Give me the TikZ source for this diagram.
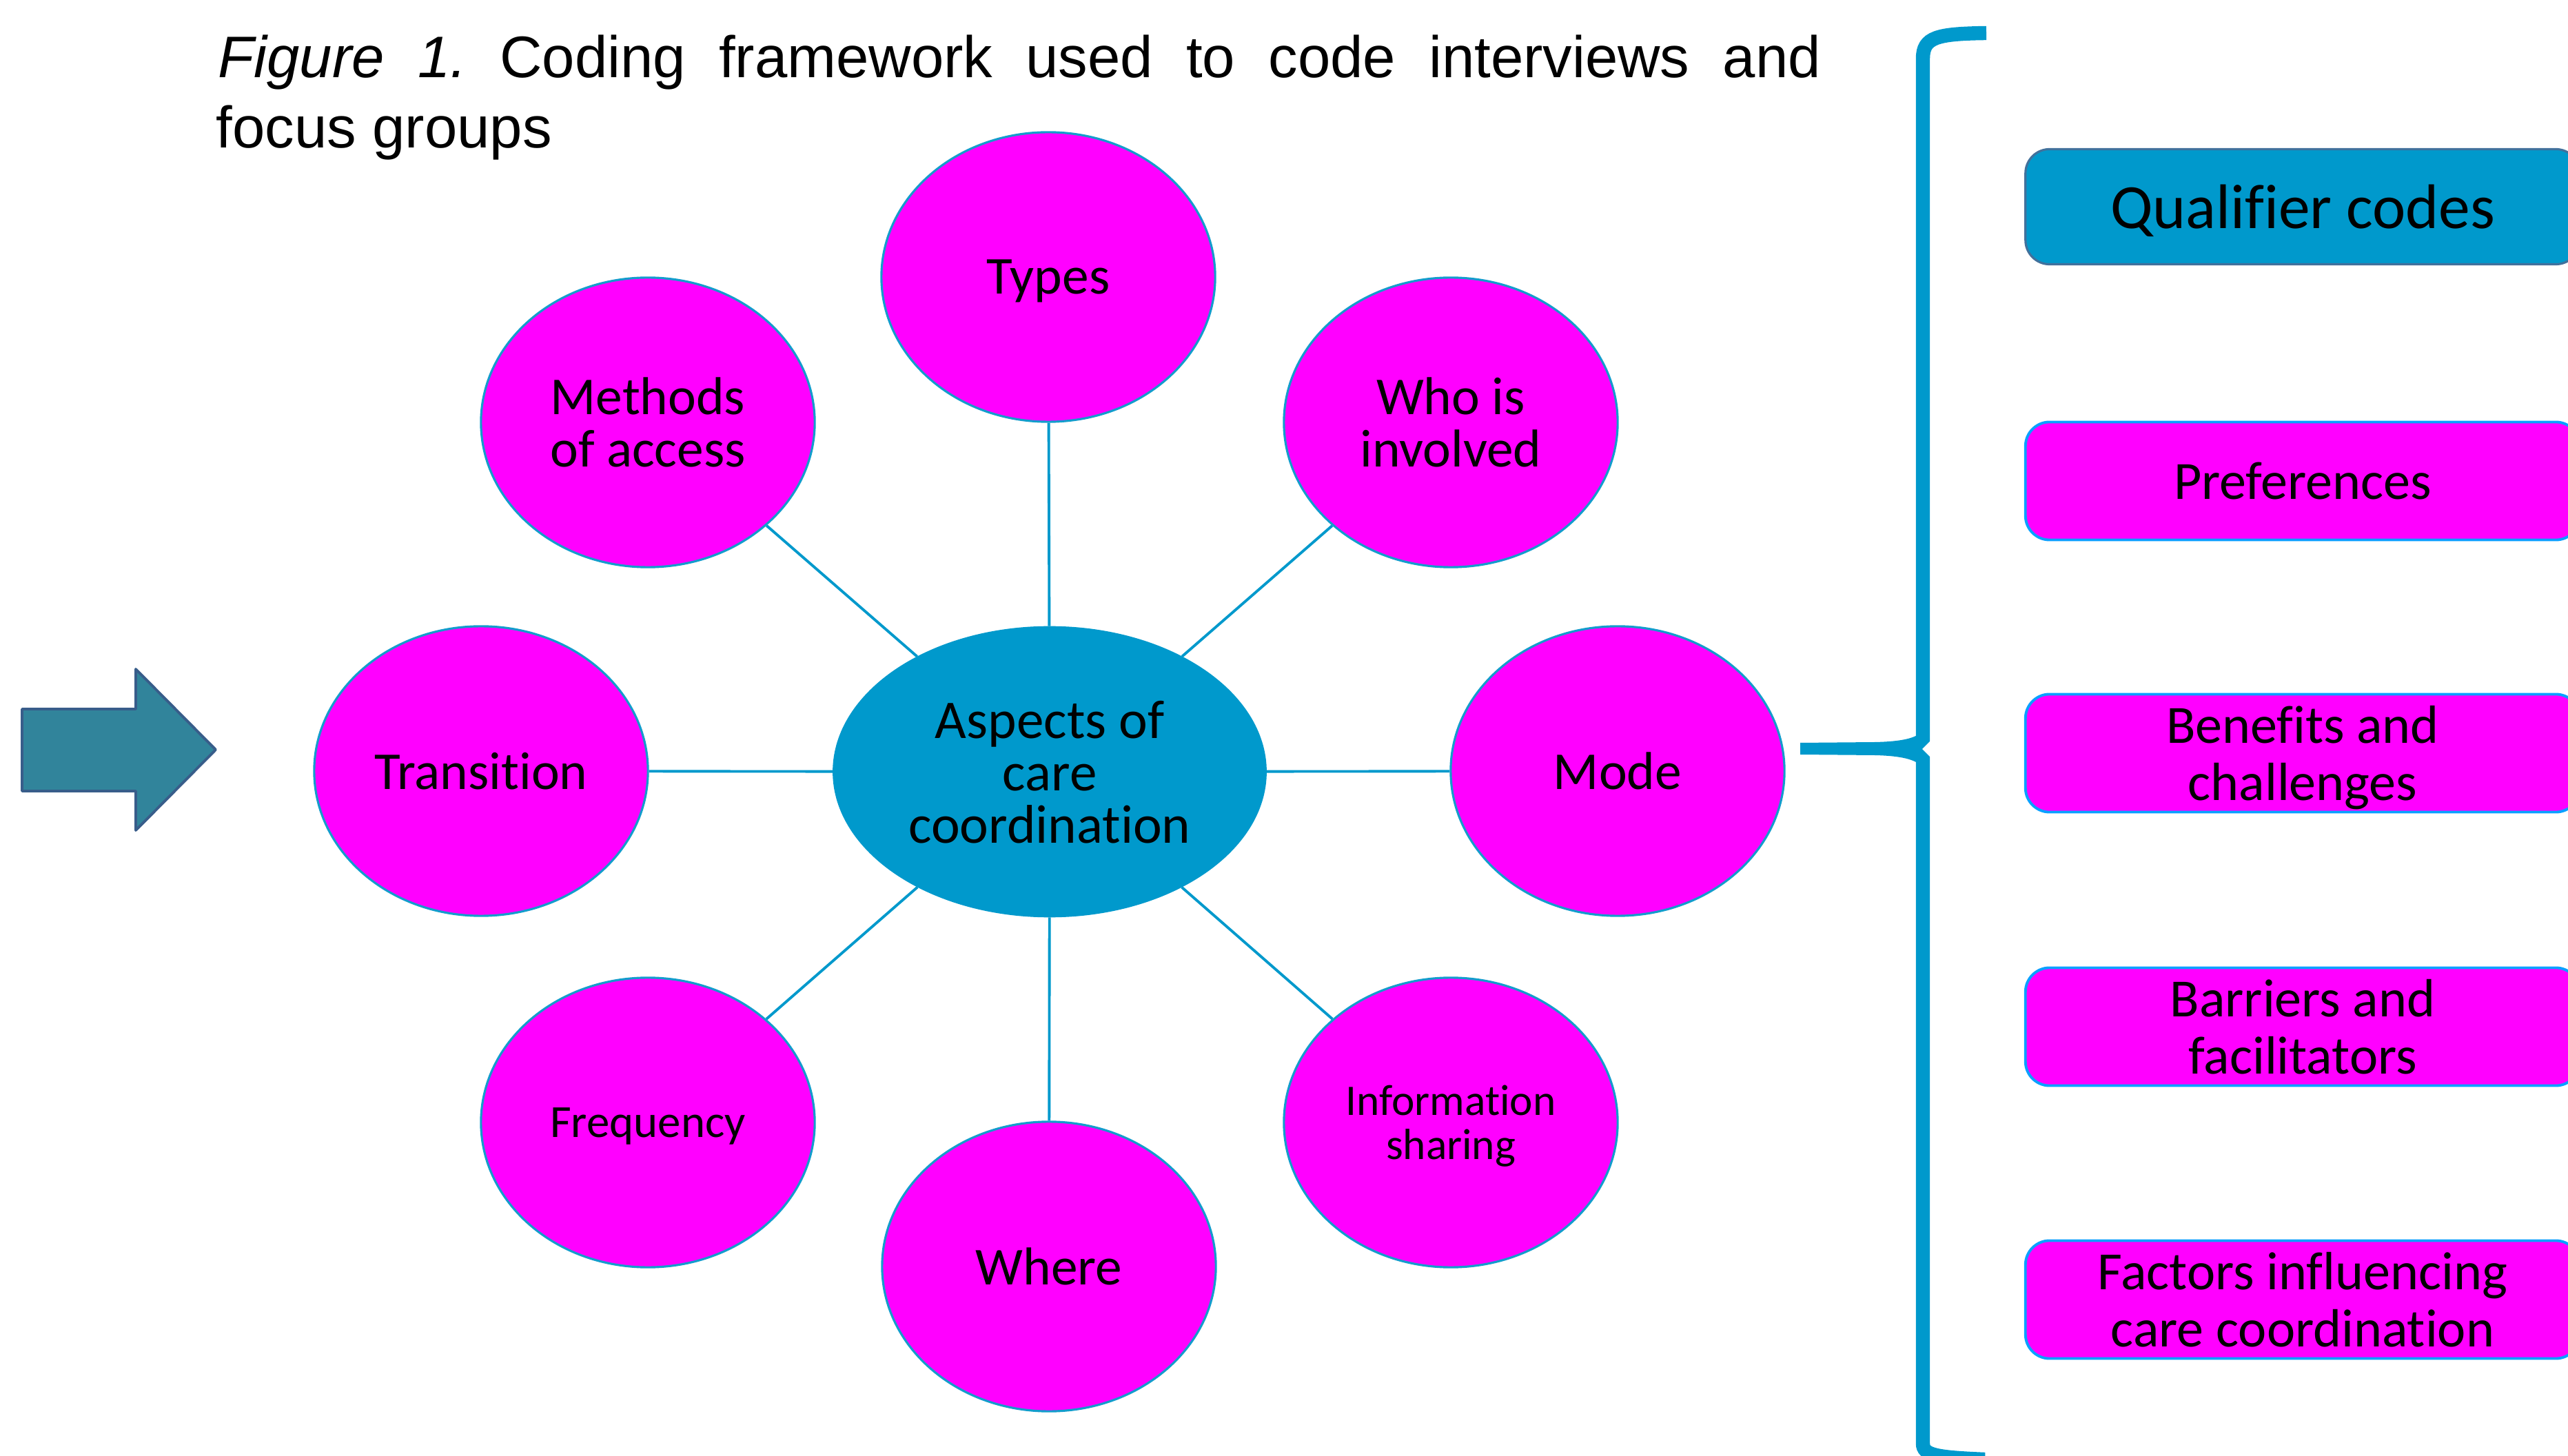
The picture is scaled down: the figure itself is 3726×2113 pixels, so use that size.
\documentclass[tikz,border=0pt]{standalone}
\usepackage{fontspec}
\setmainfont{Carlito}[Ligatures={NoCommon}]
\newfontfamily\titlefont{Liberation Sans}
\usetikzlibrary{shapes.geometric}
\definecolor{magentafill}{RGB}{255,0,255}
\definecolor{bubbleline}{RGB}{20,156,204}
\definecolor{hubblue}{RGB}{0,153,204}
\definecolor{boxline}{RGB}{10,160,255}
\definecolor{qualline}{RGB}{65,113,156}
\definecolor{arrowfill}{RGB}{49,132,155}
\definecolor{arrowline}{RGB}{56,93,138}
\begin{document}
\begin{tikzpicture}[x=0.01cm,y=-0.01cm,
  bubble/.style={ellipse, draw=bubbleline, line width=0.9pt, fill=magentafill,
    minimum width=4.84cm, minimum height=4.2cm, inner sep=0pt, align=center,
    text depth=0pt, font=\fontsize{22}{21.6}\selectfont},
  hub/.style={ellipse, fill=hubblue, draw=hubblue, minimum width=6.28cm,
    minimum height=4.21cm, inner sep=0pt, align=center, text depth=0pt,
    font=\fontsize{22.5}{21.6}\selectfont},
  spoke/.style={draw=hubblue, line width=1.1pt},
  codebox/.style={rectangle, rounded corners=0.35cm, draw=boxline, line width=1.1pt,
    fill=magentafill, minimum width=8.04cm, minimum height=1.71cm, inner sep=0pt,
    align=center, text depth=0pt, font=\fontsize{22.2}{23.6}\selectfont},
  qualbox/.style={codebox, draw=qualline, line width=0.9pt, fill=hubblue,
    minimum height=1.67cm, font=\fontsize{26}{28}\selectfont},
  titletext/.style={anchor=base west, inner sep=0pt,
    font=\titlefont\fontsize{24.2}{29}\selectfont},
]
\useasboundingbox (0,0) rectangle (3726,2113);
\clip (0,0) rectangle (3726,2113);

% title
\node[titletext] (title1) at (316,113) {\hbox to 23.24cm{\textit{Figure}\hfill\textit{1.}\hfill Coding\hfill framework\hfill used\hfill to\hfill code\hfill interviews\hfill and}};
\node[titletext] (title2) at (313,215) {focus groups};

% arrow
\draw[fill=arrowfill, draw=arrowline, line width=1.1pt, line join=round]
  (32,1029) -- (197,1029) -- (197,971) -- (313,1088) -- (197,1205) -- (197,1148) -- (32,1148) -- cycle;

% hub and bubbles
\node[hub] (hub) at (1523,1120) {Aspects of\\care\\coordination};
\node[bubble] (types) at (1521,402) {Types};
\node[bubble] (methods) at (940,613) {Methods\\of access};
\node[bubble] (who) at (2105,613) {Who is\\involved};
\node[bubble] (transition) at (698,1119) {Transition};
\node[bubble] (mode) at (2347,1119) {Mode};
\node[bubble, font=\fontsize{19}{19}\selectfont] (frequency) at (940,1629) {Frequency};
\node[bubble, font=\fontsize{18}{18.2}\selectfont] (info) at (2105,1629) {Information\\sharing};
\node[bubble] (where) at (1522,1838) {Where};

\foreach \n in {types,methods,who,transition,mode,frequency,info,where}
  \draw[spoke] (hub) -- (\n);

% brace
\draw[hubblue, line width=5.8pt]
  (2882,48) .. controls (2810,49) and (2790,54) .. (2790,85) -- (2790,2095)
  .. controls (2790,2112) and (2810,2115) .. (2880,2118);
\fill[hubblue] (2612,1078) -- (2720,1077) .. controls (2765,1076) and (2782,1070) .. (2790,1060)
  -- (2790,1114) .. controls (2782,1104) and (2765,1097) .. (2720,1096) -- (2612,1095) -- cycle;
\fill[white] (2802,1074) -- (2789,1087) -- (2802,1100) -- cycle;

% code boxes
\node[qualbox] (qual) at (3341,300) {Qualifier codes};
\node[codebox] (pref) at (3341,698) {Preferences};
\node[codebox] (benef) at (3341,1093) {Benefits and\\challenges};
\node[codebox] (barr) at (3341,1490) {Barriers and\\facilitators};
\node[codebox] (fact) at (3341,1886) {Factors influencing\\care coordination};
\end{tikzpicture}
\end{document}
